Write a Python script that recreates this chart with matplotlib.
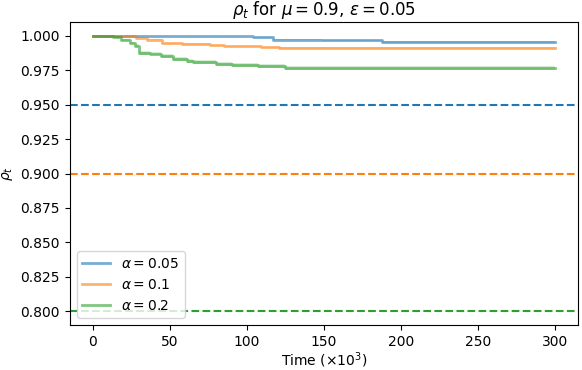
import matplotlib
matplotlib.use("Agg")
import matplotlib.pyplot as plt

# step breakpoints (time in 10^3 steps)
blue_t = [0, 71, 104, 117, 149, 188, 300]
blue_v = [1.0, 0.9998, 0.9990, 0.9973, 0.9966, 0.9955, 0.9955]
blue_sd = [0.0, 0.0002, 0.0004, 0.0004, 0.0004, 0.0004, 0.0004]

orange_t = [0, 20, 28, 35, 45, 58, 76, 85, 109, 121, 300]
orange_v = [1.0, 0.9995, 0.9985, 0.9971, 0.9947, 0.9940, 0.9931, 0.9923, 0.9916, 0.9911, 0.9911]
orange_sd = [0.0, 0.0002, 0.0003, 0.0004, 0.0004, 0.0004, 0.0004, 0.0004, 0.0004, 0.0004, 0.0004]

green_t = [0, 9, 13, 18, 24, 27, 30, 37, 44, 52, 61, 65, 80, 90, 107, 125, 300]
green_v = [1.0, 0.9995, 0.9991, 0.9971, 0.9947, 0.9928, 0.9875, 0.9870, 0.9851, 0.9832,
           0.9815, 0.9808, 0.9798, 0.9791, 0.9779, 0.9767, 0.9767]
green_sd = [0.0, 0.0003, 0.0005, 0.0008, 0.0010, 0.0012, 0.0013, 0.0013, 0.0014, 0.0014,
            0.0014, 0.0014, 0.0015, 0.0015, 0.0015, 0.0015, 0.0015]

alphas = ["0.05", "0.1", "0.2"]
targets = [0.95, 0.90, 0.80]
colors = ["C0", "C1", "C2"]

fig = plt.figure(figsize=(5.82, 3.70), dpi=100)
ax = fig.add_subplot(111)

series = [(blue_t, blue_v, blue_sd), (orange_t, orange_v, orange_sd), (green_t, green_v, green_sd)]
for (t, v, sd), a, c in zip(series, alphas, colors):
    lo = [x - s for x, s in zip(v, sd)]
    hi = [x + s for x, s in zip(v, sd)]
    ax.fill_between(t, lo, hi, step="post", color=c, alpha=0.2, lw=0)
    ax.plot(t, v, drawstyle="steps-post", color=c, alpha=0.6, lw=2, label=r"$\alpha = %s$" % a)

for y, c in zip(targets, colors):
    ax.axhline(y, color=c, ls="--", lw=1.5)

ax.set_xticks([0, 50, 100, 150, 200, 250, 300])
ax.set_yticks([0.8, 0.825, 0.85, 0.875, 0.9, 0.925, 0.95, 0.975, 1.0])
ax.set_xlabel(r"Time ($\times 10^3$)", labelpad=1.5)
ax.set_ylabel(r"$\rho_t$")
ax.set_title(r"$\rho_t$ for $\mu = 0.9$, $\varepsilon = 0.05$", pad=5)
ax.legend(loc="lower left")

fig.subplots_adjust(left=0.120, right=0.993, top=0.9405, bottom=0.1216)
fig.savefig("out.png", dpi=100)
